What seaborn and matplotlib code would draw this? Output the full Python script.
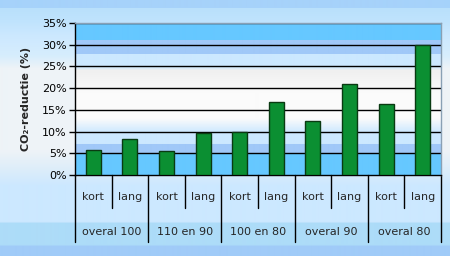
import numpy as np
import pandas as pd
import matplotlib
matplotlib.use("Agg")
import matplotlib.pyplot as plt
import seaborn as sns
from matplotlib.colors import LinearSegmentedColormap, to_rgb

# ---- data ----
groups = ["overal 100", "110 en 90", "100 en 80", "overal 90", "overal 80"]
subcats = ["kort", "lang"]
kort = [5.7, 5.6, 10.0, 12.4, 16.4]
lang = [8.4, 9.7, 16.9, 21.0, 30.0]
yticks = [0, 5, 10, 15, 20, 25, 30, 35]
ylabel = "CO₂-reductie (%)"

rows = []
for i, g in enumerate(groups):
    rows.append({"pos": 2 * i, "group": g, "sub": "kort", "val": kort[i]})
    rows.append({"pos": 2 * i + 1, "group": g, "sub": "lang", "val": lang[i]})
df = pd.DataFrame(rows)

sns.set_theme(style="white")
plt.rcParams["font.family"] = ["DejaVu Sans"]

W, H = 450, 256
fig = plt.figure(figsize=(W / 100, H / 100), dpi=100)

def vgrad(stops, n):
    # stops: list of (pixel_y, color) -> image rows
    ys = np.arange(n)
    pts = np.array([s[0] for s in stops], float)
    cols = np.array([to_rgb(s[1]) for s in stops])
    img = np.zeros((n, 1, 3))
    for c in range(3):
        img[:, 0, c] = np.interp(ys, pts, cols[:, c])
    return img

# figure background
bg = fig.add_axes([0, 0, 1, 1], zorder=-10)
fig_stops = [(0, "#a6d2fa"), (7, "#a6d2fa"), (8, "#b9e0fb"), (20, "#bfe3fd"),
             (35, "#cce8ff"), (55, "#d6edfd"), (68, "#eef3f7"), (150, "#eef3f7"),
             (170, "#dcedfa"), (185, "#cce8ff"), (221, "#cce8ff"), (223, "#addcf8"),
             (244, "#addcf8"), (246, "#a0cbf8"), (256, "#a0cbf8")]
bg.imshow(vgrad(fig_stops, H), aspect="auto", extent=[0, 1, 0, 1], interpolation="bilinear")
bg.set_axis_off()

# plot area
x0, x1, ytop, ybot = 75, 441, 23, 175
ax = fig.add_axes([x0 / W, 1 - ybot / H, (x1 - x0) / W, (ybot - ytop) / H])
ax.patch.set_alpha(0)

plot_stops = [(0, "#66c8ff"), (16, "#66c8ff"), (17, "#a0c8f8"), (30, "#a0c8f8"),
              (31, "#cce8ff"), (43, "#cce8ff"), (47, "#f0f0f0"), (70, "#fbfbfb"),
              (95, "#fbfbfb"), (109, "#cce8ff"), (120, "#cce8ff"), (121, "#a0c8f8"),
              (129, "#a0c8f8"), (131, "#66c8ff"), (152, "#66c8ff")]
ax.imshow(vgrad(plot_stops, ybot - ytop), aspect="auto",
          extent=[-0.5, 9.5, 0, 35], interpolation="bilinear", zorder=0)

sns.barplot(data=df, x="pos", y="val", order=list(range(10)), color="#0b8f32",
            width=0.41, edgecolor="#0a3a12", linewidth=1.0, saturation=1,
            ax=ax, zorder=3)

ax.set_xlim(-0.5, 9.5)
ax.set_ylim(0, 35)
ax.set_yticks(yticks)
ax.set_yticklabels([f"{t}%" for t in yticks], fontsize=8, color="#000000")
for t in yticks[1:]:
    ax.axhline(t, color="#000000", lw=1.0, zorder=2)
ax.set_xticks([])
ax.set_xlabel("")
ax.set_ylabel(ylabel, fontsize=8, fontweight="bold", labelpad=8)
ax.tick_params(axis="y", direction="out", length=4, width=1, color="#000000", pad=2, left=True)

for s in ["top", "right"]:
    ax.spines[s].set_color("#8aa0b4")
    ax.spines[s].set_linewidth(1.0)
ax.spines["left"].set_color("#000000")
ax.spines["bottom"].set_color("#000000")
ax.spines["left"].set_linewidth(1.0)
ax.spines["bottom"].set_linewidth(1.0)

# category table below axis
tr = ax.get_xaxis_transform()
inner_y = -(208 - ybot) / (ybot - ytop)
outer_y = -(242 - ybot) / (ybot - ytop)
sub_y = -(197 - ybot) / (ybot - ytop)
grp_y = -(232 - ybot) / (ybot - ytop)
for k in range(len(groups) + 1):
    ax.plot([2 * k - 0.5, 2 * k - 0.5], [0, outer_y], transform=tr, color="#000000",
            lw=1.0, clip_on=False)
for k in range(len(groups)):
    ax.plot([2 * k + 0.5, 2 * k + 0.5], [0, inner_y], transform=tr, color="#000000",
            lw=1.0, clip_on=False)
for _, r in df.iterrows():
    ax.text(r["pos"], sub_y, r["sub"], transform=tr, ha="center", va="center", fontsize=8)
for i, g in enumerate(groups):
    ax.text(2 * i + 0.5, grp_y, g, transform=tr, ha="center", va="center", fontsize=8)

fig.savefig("out.png", dpi=100)
